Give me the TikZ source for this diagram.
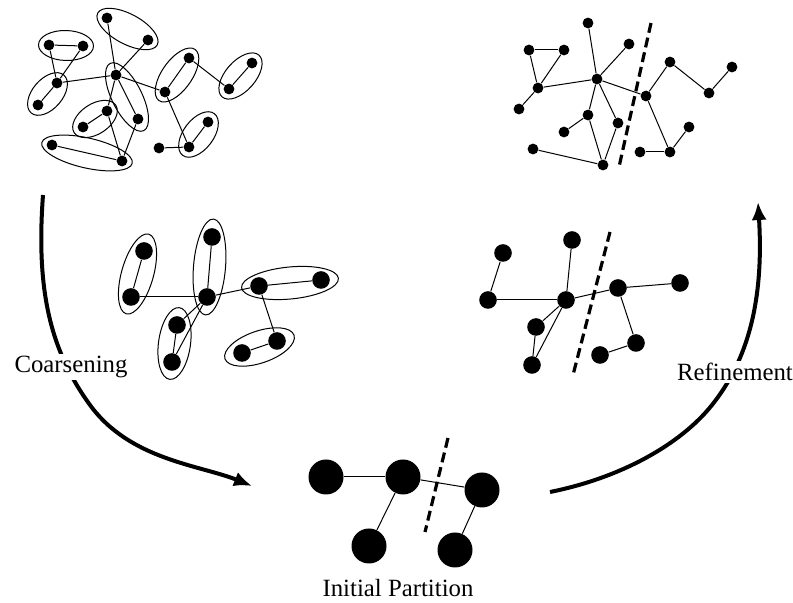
\documentclass[tikz,border=0pt]{standalone}
\usepackage{fontspec}
\setmainfont{Liberation Serif}
\usetikzlibrary{calc,arrows.meta,shapes.geometric}
\tikzset{
  dotsmall/.style={circle, fill=black, inner sep=0pt, minimum size=5.4pt},
  dotmid/.style={circle, fill=black, inner sep=0pt, minimum size=8.8pt},
  dotbig/.style={circle, fill=black, inner sep=0pt, minimum size=17.5pt},
  edgelink/.style={line width=0.5pt},
  grpsmall/.style={ellipse, draw, line width=0.5pt, inner sep=0pt, minimum height=15pt},
  grpmid/.style={ellipse, draw, line width=0.5pt, inner sep=0pt, minimum height=16pt},
  cutline/.style={line width=1.6pt, dash pattern=on 5pt off 2.5pt},
  flowarrow/.style={line width=2pt, -{Latex[length=9pt,width=7.5pt]}},
  steplabel/.style={fill=white, inner sep=1pt, font=\fontsize{12.4}{14}\selectfont}
}
\newcommand{\grp}[4][10.5pt]{%
  \path let \p1 = ($(#3.center)-(#2.center)$), \n1 = {veclen(\x1,\y1)} in
    (#2.center) -- node[#4, sloped, minimum width={\n1+#1}] {} (#3.center);}

\begin{document}
\begin{tikzpicture}[x=0.5pt, y=-0.5pt]
    \useasboundingbox (0,0) rectangle (793,603);
    % ---------------------
    % finest graph, matched pairs
    \node[dotsmall] (a1)  at (49,45)   {};
    \node[dotsmall] (a2)  at (83,46)   {};
    \node[dotsmall] (a3)  at (107,18)  {};
    \node[dotsmall] (a4)  at (148,40)  {};
    \node[dotsmall] (a5)  at (57,83)   {};
    \node[dotsmall] (a6)  at (38,105)  {};
    \node[dotsmall] (a7)  at (116,75)  {};
    \node[dotsmall] (a8)  at (189,58)  {};
    \node[dotsmall] (a9)  at (252,63)  {};
    \node[dotsmall] (a10) at (229,89)  {};
    \node[dotsmall] (a11) at (165,92)  {};
    \node[dotsmall] (a12) at (107,111) {};
    \node[dotsmall] (a13) at (83,127)  {};
    \node[dotsmall] (a14) at (138,119) {};
    \node[dotsmall] (a15) at (52,145)  {};
    \node[dotsmall] (a16) at (122,161) {};
    \node[dotsmall] (a17) at (159,148) {};
    \node[dotsmall] (a18) at (189,147) {};
    \node[dotsmall] (a19) at (208,122) {};
    \grp{a1}{a2}{grpsmall}
    \grp{a3}{a4}{grpsmall}
    \grp{a5}{a6}{grpsmall}
    \grp[13pt]{a7}{a14}{grpsmall}
    \grp{a12}{a13}{grpsmall}
    \grp{a15}{a16}{grpsmall}
    \grp{a8}{a11}{grpsmall}
    \grp{a9}{a10}{grpsmall}
    \grp{a18}{a19}{grpsmall}
    \draw
    (a1)
    edge[edgelink] (a2)
    edge[edgelink] (a5)
    (a2)
    edge[edgelink] (a5)
    (a5)
    edge[edgelink] (a6)
    edge[edgelink] (a7)
    (a7)
    edge[edgelink] (a3)
    edge[edgelink] (a4)
    edge[edgelink] (a11)
    edge[edgelink] (a12)
    edge[edgelink] (a14)
    (a12)
    edge[edgelink] (a13)
    edge[edgelink] (a16)
    (a16)
    edge[edgelink] (a14)
    edge[edgelink] (a15)
    (a11)
    edge[edgelink] (a8)
    edge[edgelink] (a18)
    (a8)
    edge[edgelink] (a10)
    (a10)
    edge[edgelink] (a9)
    (a18)
    edge[edgelink] (a17)
    edge[edgelink] (a19);
    % ---------------------
    % coarser graph
    \node[dotmid] (c1)  at (144,251) {};
    \node[dotmid] (c2)  at (131,297) {};
    \node[dotmid] (c3)  at (212,237) {};
    \node[dotmid] (c4)  at (207,297) {};
    \node[dotmid] (c5)  at (259,286) {};
    \node[dotmid] (c6)  at (321,280) {};
    \node[dotmid] (c7)  at (177,325) {};
    \node[dotmid] (c8)  at (172,362) {};
    \node[dotmid] (c9)  at (277,341) {};
    \node[dotmid] (c10) at (242,353) {};
    \grp[17.5pt]{c1}{c2}{grpmid}
    \grp[18pt]{c3}{c4}{grpmid}
    \grp[17.5pt]{c5}{c6}{grpmid}
    \grp[17.5pt]{c7}{c8}{grpmid}
    \grp[18pt]{c9}{c10}{grpmid}
    \draw
    (c2)
    edge[edgelink] (c1)
    edge[edgelink] (c4)
    (c4)
    edge[edgelink] (c3)
    edge[edgelink] (c5)
    edge[edgelink] (c7)
    edge[edgelink] (c8)
    (c7)
    edge[edgelink] (c8)
    (c5)
    edge[edgelink] (c6)
    edge[edgelink] (c9)
    (c9)
    edge[edgelink] (c10);
    % ---------------------
    % coarsest graph, split
    \node[dotbig] (e1) at (326,477) {};
    \node[dotbig] (e2) at (403,477) {};
    \node[dotbig] (e3) at (482,490) {};
    \node[dotbig] (e4) at (369,546) {};
    \node[dotbig] (e5) at (455,550) {};
    \draw
    (e2)
    edge[edgelink] (e1)
    edge[edgelink] (e3)
    edge[edgelink] (e4)
    (e3)
    edge[edgelink] (e5);
    \coordinate (cut3a) at (448,438);
    \coordinate (cut3b) at (425,532);
    \draw[cutline] (cut3a) -- (cut3b);
    % ---------------------
    % projected back
    \node[dotmid] (d1)  at (503,253) {};
    \node[dotmid] (d2)  at (572,240) {};
    \node[dotmid] (d3)  at (488,300) {};
    \node[dotmid] (d4)  at (566,300) {};
    \node[dotmid] (d5)  at (618,288) {};
    \node[dotmid] (d6)  at (680,283) {};
    \node[dotmid] (d7)  at (536,327) {};
    \node[dotmid] (d8)  at (532,365) {};
    \node[dotmid] (d9)  at (636,343) {};
    \node[dotmid] (d10) at (600,355) {};
    \draw
    (d3)
    edge[edgelink] (d1)
    edge[edgelink] (d4)
    (d4)
    edge[edgelink] (d2)
    edge[edgelink] (d5)
    edge[edgelink] (d7)
    edge[edgelink] (d8)
    (d7)
    edge[edgelink] (d8)
    (d5)
    edge[edgelink] (d6)
    edge[edgelink] (d9)
    (d9)
    edge[edgelink] (d10);
    \coordinate (cut2a) at (610,232);
    \coordinate (cut2b) at (573,375);
    \draw[cutline] (cut2a) -- (cut2b);
    % ---------------------
    % refined original graph
    \node[dotsmall] (b1)  at (529,50)  {};
    \node[dotsmall] (b2)  at (564,50)  {};
    \node[dotsmall] (b3)  at (588,23)  {};
    \node[dotsmall] (b4)  at (629,44)  {};
    \node[dotsmall] (b5)  at (538,88)  {};
    \node[dotsmall] (b6)  at (519,109) {};
    \node[dotsmall] (b7)  at (597,79)  {};
    \node[dotsmall] (b8)  at (670,62)  {};
    \node[dotsmall] (b9)  at (732,67)  {};
    \node[dotsmall] (b10) at (709,93)  {};
    \node[dotsmall] (b11) at (646,96)  {};
    \node[dotsmall] (b12) at (588,115) {};
    \node[dotsmall] (b13) at (564,132) {};
    \node[dotsmall] (b14) at (618,123) {};
    \node[dotsmall] (b15) at (533,149) {};
    \node[dotsmall] (b16) at (603,165) {};
    \node[dotsmall] (b17) at (640,152) {};
    \node[dotsmall] (b18) at (670,152) {};
    \node[dotsmall] (b19) at (689,127) {};
    \draw
    (b1)
    edge[edgelink] (b2)
    edge[edgelink] (b5)
    (b2)
    edge[edgelink] (b5)
    (b5)
    edge[edgelink] (b6)
    edge[edgelink] (b7)
    (b7)
    edge[edgelink] (b3)
    edge[edgelink] (b4)
    edge[edgelink] (b11)
    edge[edgelink] (b12)
    edge[edgelink] (b14)
    (b12)
    edge[edgelink] (b13)
    edge[edgelink] (b16)
    (b16)
    edge[edgelink] (b14)
    edge[edgelink] (b15)
    (b11)
    edge[edgelink] (b8)
    edge[edgelink] (b18)
    (b8)
    edge[edgelink] (b10)
    (b10)
    edge[edgelink] (b9)
    (b18)
    edge[edgelink] (b17)
    edge[edgelink] (b19);
    \coordinate (cut1a) at (651,23);
    \coordinate (cut1b) at (619,167);
    \draw[cutline] (cut1a) -- (cut1b);
    % ---------------------
    % the V-cycle
    \coordinate (down0) at (43,195);
    \coordinate (down1) at (252,486);
    \coordinate (up0) at (550,492);
    \coordinate (up1) at (758,202);
    \draw[flowarrow] (down0) .. controls (36,290) and (50,350) .. (90,405)
      .. controls (130,460) and (200,465) .. (down1);
    \draw[flowarrow] (up0) .. controls (620,478) and (680,445) .. (712,405)
      .. controls (748,360) and (764,300) .. (up1);
    \node[steplabel] (coarse)  at (71,367)  {Coarsening};
    \node[steplabel] (refine)  at (735,372) {Refinement};
    \node[steplabel] (initial) at (398,588) {Initial Partition};
\end{tikzpicture}
\end{document}
